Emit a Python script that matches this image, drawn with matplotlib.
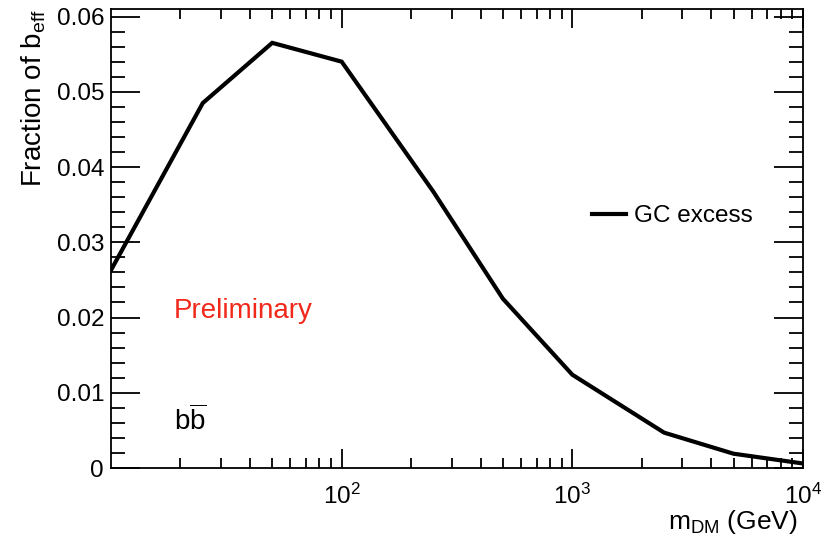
import math
import matplotlib
matplotlib.use("Agg")
import matplotlib.pyplot as plt
from matplotlib.ticker import LogLocator, FixedLocator, MultipleLocator, FuncFormatter

plt.rcParams['font.family'] = ['Liberation Sans', 'DejaVu Sans']
plt.rcParams['mathtext.fontset'] = 'custom'
plt.rcParams['mathtext.rm'] = 'Liberation Sans'
plt.rcParams['mathtext.it'] = 'Liberation Sans:italic'
plt.rcParams['mathtext.bf'] = 'Liberation Sans:bold'

# Dark-matter mass points (GeV) and fraction of b_eff for the b-bbar channel
mass_gev = [10, 25, 50, 100, 250, 500, 1000, 2500, 5000, 10000]
fraction_beff = [0.0263, 0.0485, 0.0565, 0.0540, 0.0367, 0.0225,
                 0.0124, 0.0047, 0.0019, 0.0006]
series_label = "GC excess"

fig = plt.figure(figsize=(8.29, 5.38), dpi=100)
ax = fig.add_axes([0.1339, 0.1301, 0.9686 - 0.1339, 0.9833 - 0.1301])

ax.plot(mass_gev, fraction_beff, color='black', lw=3.0, solid_joinstyle='miter')

ax.set_xscale('log')
ax.set_xlim(10, 1e4)
ax.set_ylim(0, 0.061)

ax.xaxis.set_major_locator(FixedLocator([1e2, 1e3, 1e4]))
ax.xaxis.set_major_formatter(FuncFormatter(lambda v, p: r'$\mathregular{10^{%d}}$' % round(math.log10(v))))
ax.xaxis.set_minor_locator(LogLocator(base=10, subs=range(2, 10), numticks=20))
ax.yaxis.set_major_locator(MultipleLocator(0.01))
ax.yaxis.set_minor_locator(MultipleLocator(0.002))
ax.yaxis.set_major_formatter(FuncFormatter(lambda v, p: '0' if abs(v) < 1e-9 else ('%.2f' % v)))

ax.tick_params(which='both', direction='in', top=True, right=True, width=1.3, labelsize=17.5)
ax.tick_params(axis='y', which='major', length=21, pad=5)
ax.tick_params(axis='y', which='minor', length=10)
ax.tick_params(axis='x', which='major', length=14, pad=11)
ax.tick_params(axis='x', which='minor', length=7)
for s in ax.spines.values():
    s.set_linewidth(1.3)

ax.set_xlabel(r'm$_{\mathregular{DM}}$ (GeV)', fontsize=19, loc='right', labelpad=0)
ax.xaxis.label.set_x(0.992)
ax.set_ylabel(r'Fraction of b$_{\mathregular{eff}}$', fontsize=20, loc='top', labelpad=6)

ax.legend([ax.lines[0]], [series_label], loc='center left', bbox_to_anchor=(0.695, 0.549),
          frameon=False, fontsize=17.5, handlelength=1.4, handletextpad=0.35,
          borderaxespad=0, borderpad=0)

ax.text(0.091, 0.327, 'Preliminary', color='#f2281a', fontsize=20, transform=ax.transAxes)
ax.text(0.091, 0.082, r'b$\overline{\mathregular{b}}$', color='black', fontsize=20, transform=ax.transAxes)

fig.savefig('out.png', dpi=100)
